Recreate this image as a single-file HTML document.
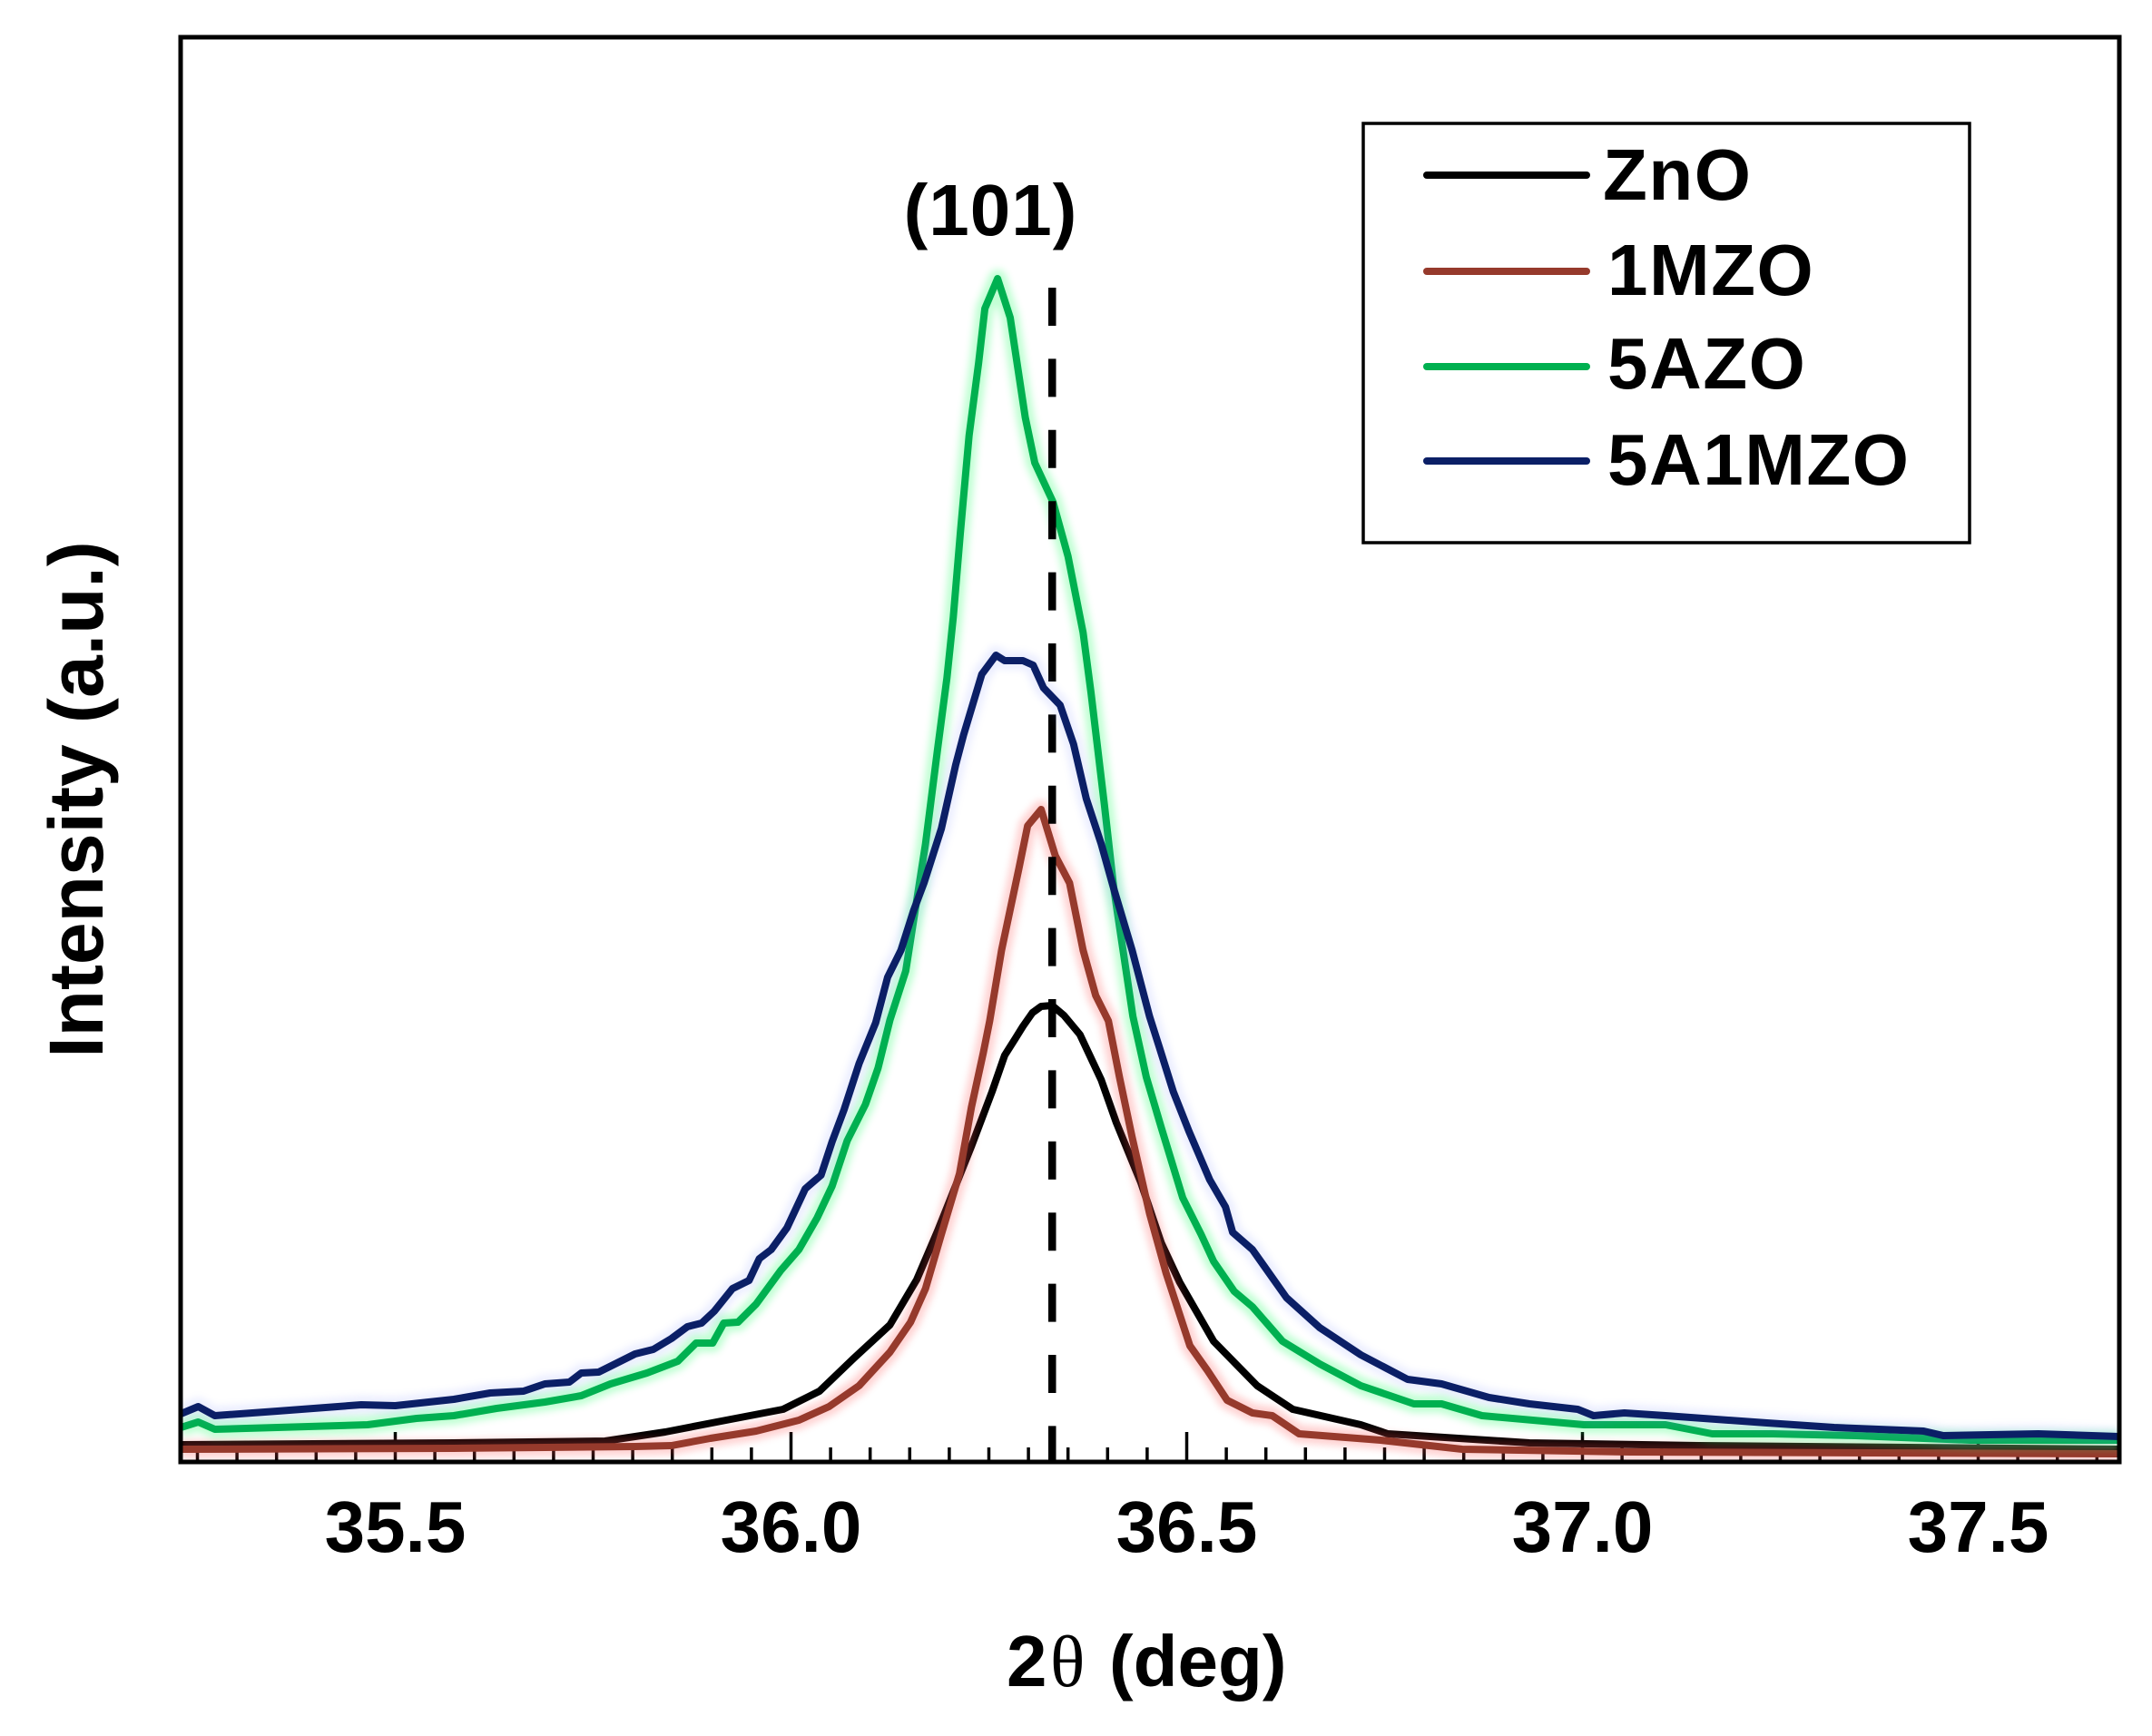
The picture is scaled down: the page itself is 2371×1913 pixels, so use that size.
<!DOCTYPE html>
<html lang="en">
<head>
<meta charset="utf-8">
<title>XRD (101) peak</title>
<style>
html,body{margin:0;padding:0;background:#fff;}
svg{display:block;}
text{font-family:"Liberation Sans",Arial,sans-serif;font-weight:bold;fill:#000;}
</style>
</head>
<body>
<svg id="chart" xmlns="http://www.w3.org/2000/svg" width="2371" height="1913" viewBox="0 0 2371 1913">
  <defs>
    <filter id="halo" x="-5%" y="-5%" width="110%" height="110%"><feGaussianBlur stdDeviation="4"/></filter>
    <clipPath id="plot-clip"><rect x="199" y="41" width="2136" height="1570"/></clipPath>
  </defs>
  <rect x="0" y="0" width="2371" height="1913" fill="#fff"/>
  <g id="ticks"></g>
  <g id="series" clip-path="url(#plot-clip)"></g>
  <rect x="199" y="41" width="2136" height="1570" fill="none" stroke="#000" stroke-width="5"/>
  <g id="xlabels"></g>
  <text y="1858" font-size="80"><tspan x="1109">2</tspan><tspan x="1157" style="font-family:'Liberation Serif',serif;font-weight:normal">θ</tspan><tspan x="1222">(deg)</tspan></text>
  <text font-size="84" text-anchor="middle" transform="translate(113 881) rotate(-90)">Intensity (a.u.)</text>
  <text x="1091.5" y="259" font-size="80" letter-spacing="1" text-anchor="middle">(101)</text>
  <g>
    <rect x="1502" y="136" width="668" height="462" fill="#fff" stroke="#000" stroke-width="3.5"/>
    <line x1="1572" y1="193" x2="1748" y2="193" stroke="#000" stroke-width="8" stroke-linecap="round"/>
    <line x1="1572" y1="299" x2="1748" y2="299" stroke="#963a2c" stroke-width="8" stroke-linecap="round"/>
    <line x1="1572" y1="404" x2="1748" y2="404" stroke="#00b050" stroke-width="8" stroke-linecap="round"/>
    <line x1="1572" y1="508" x2="1748" y2="508" stroke="#0b1f66" stroke-width="8" stroke-linecap="round"/>
    <text x="1766" y="220" font-size="80" letter-spacing="1.5">ZnO</text>
    <text x="1771" y="325" font-size="80" letter-spacing="1.5">1MZO</text>
    <text x="1771" y="428" font-size="80" letter-spacing="1.5">5AZO</text>
    <text x="1771" y="534" font-size="80" letter-spacing="1.5">5A1MZO</text>
  </g>
</svg>
<script>
const majorTicks = [35.5, 36.0, 36.5, 37.0, 37.5];
const majorTickLabels = ["35.5", "36.0", "36.5", "37.0", "37.5"];
const minorTicks = [35.25,35.3,35.35,35.4,35.45,35.55,35.6,35.65,35.7,35.75,35.8,35.85,35.9,35.95,36.05,36.1,36.15,36.2,36.25,36.3,36.35,36.4,36.45,36.55,36.6,36.65,36.7,36.75,36.8,36.85,36.9,36.95,37.05,37.1,37.15,37.2,37.25,37.3,37.35,37.4,37.45,37.55,37.6,37.65];
const referencePeakTheta = 36.33;

const znoTheta = [35.229,35.574,35.765,35.841,35.918,35.99,36.036,36.079,36.125,36.159,36.185,36.228,36.254,36.27,36.283,36.293,36.305,36.316,36.33,36.345,36.365,36.392,36.411,36.442,36.468,36.491,36.534,36.589,36.634,36.72,36.754,36.933,37.147,37.678];
const znoIntensity = [1.9,2.1,2.3,3.3,4.6,5.8,7.8,11.4,15.1,20.1,25.4,34.8,40.8,44.8,46.6,48.0,49.5,50.2,50.3,49.2,47.1,42.1,37.4,30.8,24.1,19.8,13.3,8.4,5.8,4.1,3.1,2.1,1.8,1.4];

const mzoTheta = [35.229,35.574,35.689,35.803,35.849,35.898,35.956,36.01,36.048,36.086,36.125,36.151,36.17,36.19,36.213,36.228,36.243,36.251,36.266,36.288,36.299,36.316,36.334,36.352,36.369,36.385,36.401,36.415,36.431,36.453,36.474,36.504,36.526,36.551,36.583,36.608,36.642,36.745,36.848,37.061,37.678];
const mzoIntensity = [1.4,1.5,1.6,1.7,1.8,2.6,3.4,4.6,6.1,8.4,12.1,15.4,19.1,25.1,31.8,39.1,45.1,48.6,56.4,65.4,70.1,71.9,66.8,63.8,56.4,51.4,48.6,42.4,35.8,27.4,20.8,12.8,10.1,6.8,5.4,5.1,3.1,2.4,1.4,1.1,0.9];

const azoTheta = [35.229,35.251,35.272,35.351,35.465,35.527,35.574,35.628,35.689,35.735,35.772,35.818,35.857,35.88,35.901,35.915,35.933,35.956,35.987,36.01,36.033,36.052,36.071,36.094,36.11,36.125,36.145,36.17,36.185,36.197,36.205,36.214,36.225,36.237,36.245,36.261,36.277,36.296,36.308,36.331,36.35,36.369,36.379,36.396,36.408,36.432,36.449,36.468,36.495,36.518,36.534,36.56,36.583,36.621,36.668,36.72,36.787,36.822,36.873,37.002,37.105,37.164,37.241,37.345,37.49,37.678];
const azoIntensity = [3.8,4.4,3.6,3.8,4.1,4.8,5.1,5.9,6.6,7.3,8.6,9.8,11.1,13.1,13.1,15.3,15.4,17.4,21.1,23.4,26.9,30.4,35.4,39.4,43.4,48.7,54.1,68.1,78.4,86.4,93.1,102.4,113.1,121.1,127.1,130.4,126.1,115.1,110.1,105.8,99.8,91.4,84.8,72.4,63.1,49.1,42.4,36.8,29.1,25.1,22.1,18.8,17.1,13.3,10.8,8.4,6.4,6.4,5.1,4.1,4.1,3.1,3.1,2.9,2.4,2.4];

const a1mzoTheta = [35.229,35.251,35.272,35.351,35.457,35.5,35.574,35.62,35.662,35.689,35.72,35.735,35.757,35.78,35.803,35.826,35.849,35.869,35.887,35.903,35.926,35.947,35.96,35.975,35.995,36.018,36.038,36.052,36.067,36.086,36.107,36.122,36.139,36.155,36.168,36.19,36.208,36.218,36.241,36.259,36.27,36.293,36.306,36.319,36.34,36.357,36.373,36.392,36.408,36.431,36.453,36.465,36.483,36.503,36.529,36.549,36.558,36.583,36.626,36.668,36.72,36.779,36.822,36.882,36.933,36.994,37.014,37.053,37.105,37.233,37.318,37.431,37.456,37.576,37.678];
const a1mzoIntensity = [5.3,6.1,5.1,5.6,6.3,6.2,6.9,7.6,7.8,8.6,8.8,9.8,9.9,10.9,11.9,12.4,13.6,14.9,15.3,16.6,19.1,20.0,22.4,23.4,25.8,30.1,31.6,35.3,38.8,43.9,48.4,53.4,56.4,60.8,63.8,69.8,76.8,80.1,86.8,88.9,88.3,88.3,87.8,85.3,83.4,79.1,73.1,68.1,63.1,56.4,49.1,45.8,40.8,36.4,31.1,28.1,25.3,23.4,18.1,14.8,11.8,9.1,8.6,7.1,6.4,5.8,5.1,5.4,5.1,4.3,3.8,3.4,2.9,3.1,2.8];

const SVG_NS = 'http://www.w3.org/2000/svg';
function xScale(theta) { return 435.5 + (theta - 35.5) * 872; }
function yScale(intensity) { return 1611 - intensity * 10; }
function linePath(thetas, values) {
  return thetas.map(function (t, i) {
    return (i ? 'L' : 'M') + xScale(t).toFixed(1) + ' ' + yScale(values[i]).toFixed(1);
  }).join(' ');
}

const tickGroup = document.getElementById('ticks');
majorTicks.forEach(function (t) {
  const el = document.createElementNS(SVG_NS, 'line');
  
  
  el.setAttribute('x1', xScale(t));
  el.setAttribute('x2', xScale(t));
  el.setAttribute('y1', 1578);
  el.setAttribute('y2', 1611);
  el.setAttribute('stroke', '#000');
  el.setAttribute('stroke-width', 3.5);
  tickGroup.appendChild(el);
});
minorTicks.forEach(function (t) {
  const el = document.createElementNS(SVG_NS, 'line');
  
  
  el.setAttribute('x1', xScale(t));
  el.setAttribute('x2', xScale(t));
  el.setAttribute('y1', 1595);
  el.setAttribute('y2', 1611);
  el.setAttribute('stroke', '#000');
  el.setAttribute('stroke-width', 3.5);
  tickGroup.appendChild(el);
});

const labelGroup = document.getElementById('xlabels');
majorTicks.forEach(function (t, i) {
  const el = document.createElementNS(SVG_NS, 'text');
  
  
  el.setAttribute('x', xScale(t));
  el.setAttribute('y', 1710);
  el.setAttribute('font-size', 80);
  el.setAttribute('text-anchor', 'middle');
  el.textContent = majorTickLabels[i];
  labelGroup.appendChild(el);
});

const seriesGroup = document.getElementById('series');
function addSeries(name, thetas, values, color, glowColor, glowOpacity) {
  const d = linePath(thetas, values);
  if (glowOpacity > 0) {
    const glow = document.createElementNS(SVG_NS, 'path');
    
    
    glow.setAttribute('d', d);
    glow.setAttribute('fill', 'none');
    glow.setAttribute('stroke', glowColor);
    glow.setAttribute('stroke-width', 20);
    glow.setAttribute('stroke-linejoin', 'round');
    glow.setAttribute('opacity', glowOpacity);
    glow.setAttribute('filter', 'url(#halo)');
    seriesGroup.appendChild(glow);
  }
  const path = document.createElementNS(SVG_NS, 'path');
  
  
  path.setAttribute('d', d);
  path.setAttribute('fill', 'none');
  path.setAttribute('stroke', color);
  path.setAttribute('stroke-width', 8);
  path.setAttribute('stroke-linejoin', 'round');
  seriesGroup.appendChild(path);
}

addSeries('series-zno', znoTheta, znoIntensity, '#000000', '#000000', 0);
addSeries('series-1mzo', mzoTheta, mzoIntensity, '#963a2c', '#ff5050', 0.25);
addSeries('series-5azo', azoTheta, azoIntensity, '#00b050', '#30ff70', 0.3);

const dash = document.createElementNS(SVG_NS, 'line');


dash.setAttribute('x1', xScale(referencePeakTheta));
dash.setAttribute('x2', xScale(referencePeakTheta));
dash.setAttribute('y1', 317);
dash.setAttribute('y2', 1611);
dash.setAttribute('stroke', '#000');
dash.setAttribute('stroke-width', 8.5);
dash.setAttribute('stroke-dasharray', '42 36.4');
seriesGroup.appendChild(dash);

addSeries('series-5a1mzo', a1mzoTheta, a1mzoIntensity, '#0b1f66', '#8090ff', 0.15);
</script>
</body>
</html>
